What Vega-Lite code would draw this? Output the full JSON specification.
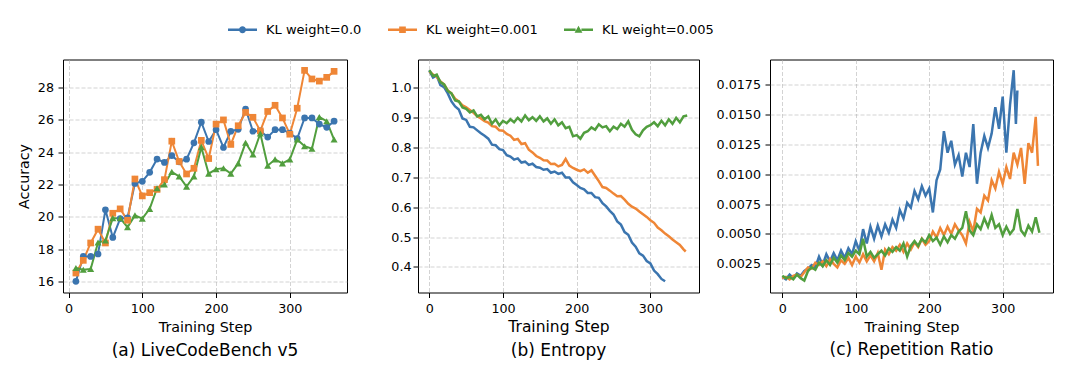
{
  "$schema": "https://vega.github.io/schema/vega-lite/v6.json",
  "padding": {"left": 16, "top": 14.5, "right": 0, "bottom": 0},
  "config": {
    "font": "DejaVu Sans",
    "view": {"stroke": "#000000", "strokeWidth": 1},
    "axis": {"domain": false, "tickColor": "#000000", "tickSize": 5, "tickWidth": 1, "labelFontSize": 12.7, "labelColor": "#000000", "labelPadding": 4.5, "titleFontWeight": "normal", "titleColor": "#000000", "gridColor": "#b0b0b0", "gridOpacity": 0.7, "gridDash": [4, 2], "gridWidth": 0.8},
    "legend": {"orient": "none", "direction": "horizontal", "legendX": 165, "legendY": -44.5, "symbolSize": 841, "labelOffset": 9, "columnPadding": 26, "labelFontSize": 13, "labelColor": "#000000", "symbolStrokeWidth": 0, "symbolOpacity": 1},
    "title": {"fontWeight": "normal", "fontSize": 17, "color": "#000000"}
  },
  "datasets": {
    "acc": [
      {"k": "KL weight=0.0", "x": 10, "y": 16.04}, {"k": "KL weight=0.0", "x": 20, "y": 17.57}, {"k": "KL weight=0.0", "x": 30, "y": 17.57}, {"k": "KL weight=0.0", "x": 40, "y": 17.72}, {"k": "KL weight=0.0", "x": 50, "y": 20.44}, {"k": "KL weight=0.0", "x": 60, "y": 18.74}, {"k": "KL weight=0.0", "x": 70, "y": 19.9}, {"k": "KL weight=0.0", "x": 80, "y": 19.95}, {"k": "KL weight=0.0", "x": 90, "y": 22.07}, {"k": "KL weight=0.0", "x": 100, "y": 22.2}, {"k": "KL weight=0.0", "x": 110, "y": 22.75}, {"k": "KL weight=0.0", "x": 120, "y": 23.57}, {"k": "KL weight=0.0", "x": 130, "y": 23.36}, {"k": "KL weight=0.0", "x": 140, "y": 23.78}, {"k": "KL weight=0.0", "x": 150, "y": 23.4}, {"k": "KL weight=0.0", "x": 160, "y": 23.56}, {"k": "KL weight=0.0", "x": 170, "y": 24.57}, {"k": "KL weight=0.0", "x": 180, "y": 25.84}, {"k": "KL weight=0.0", "x": 190, "y": 24.65}, {"k": "KL weight=0.0", "x": 200, "y": 25.38}, {"k": "KL weight=0.0", "x": 210, "y": 24.28}, {"k": "KL weight=0.0", "x": 220, "y": 25.28}, {"k": "KL weight=0.0", "x": 230, "y": 25.4}, {"k": "KL weight=0.0", "x": 240, "y": 26.65}, {"k": "KL weight=0.0", "x": 250, "y": 25.28}, {"k": "KL weight=0.0", "x": 260, "y": 25.3}, {"k": "KL weight=0.0", "x": 270, "y": 24.92}, {"k": "KL weight=0.0", "x": 280, "y": 25.38}, {"k": "KL weight=0.0", "x": 290, "y": 25.38}, {"k": "KL weight=0.0", "x": 300, "y": 25.17}, {"k": "KL weight=0.0", "x": 310, "y": 24.83}, {"k": "KL weight=0.0", "x": 320, "y": 26.1}, {"k": "KL weight=0.0", "x": 330, "y": 26.1}, {"k": "KL weight=0.0", "x": 340, "y": 25.72}, {"k": "KL weight=0.0", "x": 350, "y": 25.52}, {"k": "KL weight=0.0", "x": 360, "y": 25.9},
      {"k": "KL weight=0.001", "x": 10, "y": 16.55}, {"k": "KL weight=0.001", "x": 20, "y": 17.33}, {"k": "KL weight=0.001", "x": 30, "y": 18.4}, {"k": "KL weight=0.001", "x": 40, "y": 19.25}, {"k": "KL weight=0.001", "x": 50, "y": 18.4}, {"k": "KL weight=0.001", "x": 60, "y": 20.23}, {"k": "KL weight=0.001", "x": 70, "y": 20.5}, {"k": "KL weight=0.001", "x": 80, "y": 19.8}, {"k": "KL weight=0.001", "x": 90, "y": 22.34}, {"k": "KL weight=0.001", "x": 100, "y": 21.3}, {"k": "KL weight=0.001", "x": 110, "y": 21.5}, {"k": "KL weight=0.001", "x": 120, "y": 21.7}, {"k": "KL weight=0.001", "x": 130, "y": 22.3}, {"k": "KL weight=0.001", "x": 140, "y": 24.67}, {"k": "KL weight=0.001", "x": 150, "y": 23.42}, {"k": "KL weight=0.001", "x": 160, "y": 22.65}, {"k": "KL weight=0.001", "x": 170, "y": 23.0}, {"k": "KL weight=0.001", "x": 180, "y": 24.72}, {"k": "KL weight=0.001", "x": 190, "y": 23.6}, {"k": "KL weight=0.001", "x": 200, "y": 25.72}, {"k": "KL weight=0.001", "x": 210, "y": 25.98}, {"k": "KL weight=0.001", "x": 220, "y": 24.47}, {"k": "KL weight=0.001", "x": 230, "y": 25.62}, {"k": "KL weight=0.001", "x": 240, "y": 26.44}, {"k": "KL weight=0.001", "x": 250, "y": 26.14}, {"k": "KL weight=0.001", "x": 260, "y": 25.3}, {"k": "KL weight=0.001", "x": 270, "y": 26.5}, {"k": "KL weight=0.001", "x": 280, "y": 26.88}, {"k": "KL weight=0.001", "x": 290, "y": 26.1}, {"k": "KL weight=0.001", "x": 300, "y": 25.1}, {"k": "KL weight=0.001", "x": 310, "y": 26.7}, {"k": "KL weight=0.001", "x": 320, "y": 29.03}, {"k": "KL weight=0.001", "x": 330, "y": 28.5}, {"k": "KL weight=0.001", "x": 340, "y": 28.37}, {"k": "KL weight=0.001", "x": 350, "y": 28.6}, {"k": "KL weight=0.001", "x": 360, "y": 28.97},
      {"k": "KL weight=0.005", "x": 10, "y": 16.86}, {"k": "KL weight=0.005", "x": 20, "y": 16.75}, {"k": "KL weight=0.005", "x": 30, "y": 16.8}, {"k": "KL weight=0.005", "x": 40, "y": 18.43}, {"k": "KL weight=0.005", "x": 50, "y": 18.55}, {"k": "KL weight=0.005", "x": 60, "y": 19.93}, {"k": "KL weight=0.005", "x": 70, "y": 19.93}, {"k": "KL weight=0.005", "x": 80, "y": 19.37}, {"k": "KL weight=0.005", "x": 90, "y": 20.1}, {"k": "KL weight=0.005", "x": 100, "y": 19.9}, {"k": "KL weight=0.005", "x": 110, "y": 20.5}, {"k": "KL weight=0.005", "x": 120, "y": 21.77}, {"k": "KL weight=0.005", "x": 130, "y": 22.0}, {"k": "KL weight=0.005", "x": 140, "y": 22.78}, {"k": "KL weight=0.005", "x": 150, "y": 22.5}, {"k": "KL weight=0.005", "x": 160, "y": 21.87}, {"k": "KL weight=0.005", "x": 170, "y": 22.5}, {"k": "KL weight=0.005", "x": 180, "y": 24.3}, {"k": "KL weight=0.005", "x": 190, "y": 22.67}, {"k": "KL weight=0.005", "x": 200, "y": 22.95}, {"k": "KL weight=0.005", "x": 210, "y": 23.0}, {"k": "KL weight=0.005", "x": 220, "y": 22.67}, {"k": "KL weight=0.005", "x": 230, "y": 23.3}, {"k": "KL weight=0.005", "x": 240, "y": 24.57}, {"k": "KL weight=0.005", "x": 250, "y": 23.85}, {"k": "KL weight=0.005", "x": 260, "y": 25.14}, {"k": "KL weight=0.005", "x": 270, "y": 23.16}, {"k": "KL weight=0.005", "x": 280, "y": 23.55}, {"k": "KL weight=0.005", "x": 290, "y": 23.3}, {"k": "KL weight=0.005", "x": 300, "y": 23.55}, {"k": "KL weight=0.005", "x": 310, "y": 24.77}, {"k": "KL weight=0.005", "x": 320, "y": 24.36}, {"k": "KL weight=0.005", "x": 330, "y": 24.2}, {"k": "KL weight=0.005", "x": 340, "y": 26.16}, {"k": "KL weight=0.005", "x": 350, "y": 25.9}, {"k": "KL weight=0.005", "x": 360, "y": 24.77}
    ],
    "ent": [
      {"k": "KL weight=0.0", "x": 0, "y": 1.058}, {"k": "KL weight=0.0", "x": 5, "y": 1.035}, {"k": "KL weight=0.0", "x": 10, "y": 1.042}, {"k": "KL weight=0.0", "x": 15, "y": 1.01}, {"k": "KL weight=0.0", "x": 20, "y": 1.003}, {"k": "KL weight=0.0", "x": 25, "y": 0.982}, {"k": "KL weight=0.0", "x": 30, "y": 0.955}, {"k": "KL weight=0.0", "x": 35, "y": 0.938}, {"k": "KL weight=0.0", "x": 40, "y": 0.928}, {"k": "KL weight=0.0", "x": 45, "y": 0.898}, {"k": "KL weight=0.0", "x": 50, "y": 0.893}, {"k": "KL weight=0.0", "x": 55, "y": 0.87}, {"k": "KL weight=0.0", "x": 60, "y": 0.868}, {"k": "KL weight=0.0", "x": 65, "y": 0.858}, {"k": "KL weight=0.0", "x": 70, "y": 0.848}, {"k": "KL weight=0.0", "x": 75, "y": 0.84}, {"k": "KL weight=0.0", "x": 80, "y": 0.83}, {"k": "KL weight=0.0", "x": 85, "y": 0.81}, {"k": "KL weight=0.0", "x": 90, "y": 0.808}, {"k": "KL weight=0.0", "x": 95, "y": 0.795}, {"k": "KL weight=0.0", "x": 100, "y": 0.792}, {"k": "KL weight=0.0", "x": 105, "y": 0.775}, {"k": "KL weight=0.0", "x": 110, "y": 0.77}, {"k": "KL weight=0.0", "x": 115, "y": 0.76}, {"k": "KL weight=0.0", "x": 120, "y": 0.764}, {"k": "KL weight=0.0", "x": 125, "y": 0.75}, {"k": "KL weight=0.0", "x": 130, "y": 0.753}, {"k": "KL weight=0.0", "x": 135, "y": 0.742}, {"k": "KL weight=0.0", "x": 140, "y": 0.746}, {"k": "KL weight=0.0", "x": 145, "y": 0.735}, {"k": "KL weight=0.0", "x": 150, "y": 0.733}, {"k": "KL weight=0.0", "x": 155, "y": 0.726}, {"k": "KL weight=0.0", "x": 160, "y": 0.728}, {"k": "KL weight=0.0", "x": 165, "y": 0.716}, {"k": "KL weight=0.0", "x": 170, "y": 0.72}, {"k": "KL weight=0.0", "x": 175, "y": 0.712}, {"k": "KL weight=0.0", "x": 180, "y": 0.716}, {"k": "KL weight=0.0", "x": 185, "y": 0.7}, {"k": "KL weight=0.0", "x": 190, "y": 0.7}, {"k": "KL weight=0.0", "x": 195, "y": 0.684}, {"k": "KL weight=0.0", "x": 200, "y": 0.675}, {"k": "KL weight=0.0", "x": 205, "y": 0.665}, {"k": "KL weight=0.0", "x": 210, "y": 0.66}, {"k": "KL weight=0.0", "x": 215, "y": 0.648}, {"k": "KL weight=0.0", "x": 220, "y": 0.648}, {"k": "KL weight=0.0", "x": 225, "y": 0.634}, {"k": "KL weight=0.0", "x": 230, "y": 0.632}, {"k": "KL weight=0.0", "x": 235, "y": 0.614}, {"k": "KL weight=0.0", "x": 240, "y": 0.603}, {"k": "KL weight=0.0", "x": 245, "y": 0.588}, {"k": "KL weight=0.0", "x": 250, "y": 0.576}, {"k": "KL weight=0.0", "x": 255, "y": 0.553}, {"k": "KL weight=0.0", "x": 260, "y": 0.542}, {"k": "KL weight=0.0", "x": 265, "y": 0.517}, {"k": "KL weight=0.0", "x": 270, "y": 0.508}, {"k": "KL weight=0.0", "x": 275, "y": 0.482}, {"k": "KL weight=0.0", "x": 280, "y": 0.468}, {"k": "KL weight=0.0", "x": 285, "y": 0.446}, {"k": "KL weight=0.0", "x": 290, "y": 0.438}, {"k": "KL weight=0.0", "x": 295, "y": 0.42}, {"k": "KL weight=0.0", "x": 300, "y": 0.412}, {"k": "KL weight=0.0", "x": 305, "y": 0.388}, {"k": "KL weight=0.0", "x": 310, "y": 0.376}, {"k": "KL weight=0.0", "x": 315, "y": 0.36}, {"k": "KL weight=0.0", "x": 320, "y": 0.352},
      {"k": "KL weight=0.001", "x": 0, "y": 1.055}, {"k": "KL weight=0.001", "x": 5, "y": 1.045}, {"k": "KL weight=0.001", "x": 10, "y": 1.038}, {"k": "KL weight=0.001", "x": 15, "y": 1.022}, {"k": "KL weight=0.001", "x": 20, "y": 1.012}, {"k": "KL weight=0.001", "x": 25, "y": 0.992}, {"k": "KL weight=0.001", "x": 30, "y": 0.982}, {"k": "KL weight=0.001", "x": 35, "y": 0.964}, {"k": "KL weight=0.001", "x": 40, "y": 0.955}, {"k": "KL weight=0.001", "x": 45, "y": 0.942}, {"k": "KL weight=0.001", "x": 50, "y": 0.935}, {"k": "KL weight=0.001", "x": 55, "y": 0.926}, {"k": "KL weight=0.001", "x": 60, "y": 0.917}, {"k": "KL weight=0.001", "x": 65, "y": 0.905}, {"k": "KL weight=0.001", "x": 70, "y": 0.898}, {"k": "KL weight=0.001", "x": 75, "y": 0.889}, {"k": "KL weight=0.001", "x": 80, "y": 0.884}, {"k": "KL weight=0.001", "x": 85, "y": 0.872}, {"k": "KL weight=0.001", "x": 90, "y": 0.87}, {"k": "KL weight=0.001", "x": 95, "y": 0.858}, {"k": "KL weight=0.001", "x": 100, "y": 0.857}, {"k": "KL weight=0.001", "x": 105, "y": 0.846}, {"k": "KL weight=0.001", "x": 110, "y": 0.84}, {"k": "KL weight=0.001", "x": 115, "y": 0.826}, {"k": "KL weight=0.001", "x": 120, "y": 0.829}, {"k": "KL weight=0.001", "x": 125, "y": 0.812}, {"k": "KL weight=0.001", "x": 130, "y": 0.815}, {"k": "KL weight=0.001", "x": 135, "y": 0.793}, {"k": "KL weight=0.001", "x": 140, "y": 0.784}, {"k": "KL weight=0.001", "x": 145, "y": 0.772}, {"k": "KL weight=0.001", "x": 150, "y": 0.766}, {"k": "KL weight=0.001", "x": 155, "y": 0.758}, {"k": "KL weight=0.001", "x": 160, "y": 0.757}, {"k": "KL weight=0.001", "x": 165, "y": 0.745}, {"k": "KL weight=0.001", "x": 170, "y": 0.746}, {"k": "KL weight=0.001", "x": 175, "y": 0.737}, {"k": "KL weight=0.001", "x": 180, "y": 0.742}, {"k": "KL weight=0.001", "x": 185, "y": 0.762}, {"k": "KL weight=0.001", "x": 190, "y": 0.74}, {"k": "KL weight=0.001", "x": 195, "y": 0.732}, {"k": "KL weight=0.001", "x": 200, "y": 0.726}, {"k": "KL weight=0.001", "x": 205, "y": 0.721}, {"k": "KL weight=0.001", "x": 210, "y": 0.727}, {"k": "KL weight=0.001", "x": 215, "y": 0.716}, {"k": "KL weight=0.001", "x": 220, "y": 0.724}, {"k": "KL weight=0.001", "x": 225, "y": 0.706}, {"k": "KL weight=0.001", "x": 230, "y": 0.688}, {"k": "KL weight=0.001", "x": 235, "y": 0.668}, {"k": "KL weight=0.001", "x": 240, "y": 0.665}, {"k": "KL weight=0.001", "x": 245, "y": 0.656}, {"k": "KL weight=0.001", "x": 250, "y": 0.646}, {"k": "KL weight=0.001", "x": 255, "y": 0.637}, {"k": "KL weight=0.001", "x": 260, "y": 0.638}, {"k": "KL weight=0.001", "x": 265, "y": 0.626}, {"k": "KL weight=0.001", "x": 270, "y": 0.612}, {"k": "KL weight=0.001", "x": 275, "y": 0.602}, {"k": "KL weight=0.001", "x": 280, "y": 0.596}, {"k": "KL weight=0.001", "x": 285, "y": 0.586}, {"k": "KL weight=0.001", "x": 290, "y": 0.577}, {"k": "KL weight=0.001", "x": 295, "y": 0.568}, {"k": "KL weight=0.001", "x": 300, "y": 0.557}, {"k": "KL weight=0.001", "x": 305, "y": 0.548}, {"k": "KL weight=0.001", "x": 310, "y": 0.532}, {"k": "KL weight=0.001", "x": 315, "y": 0.523}, {"k": "KL weight=0.001", "x": 320, "y": 0.512}, {"k": "KL weight=0.001", "x": 325, "y": 0.503}, {"k": "KL weight=0.001", "x": 330, "y": 0.492}, {"k": "KL weight=0.001", "x": 335, "y": 0.483}, {"k": "KL weight=0.001", "x": 340, "y": 0.474}, {"k": "KL weight=0.001", "x": 345, "y": 0.459}, {"k": "KL weight=0.001", "x": 348, "y": 0.452},
      {"k": "KL weight=0.005", "x": 0, "y": 1.06}, {"k": "KL weight=0.005", "x": 5, "y": 1.04}, {"k": "KL weight=0.005", "x": 10, "y": 1.045}, {"k": "KL weight=0.005", "x": 15, "y": 1.02}, {"k": "KL weight=0.005", "x": 20, "y": 1.012}, {"k": "KL weight=0.005", "x": 25, "y": 0.99}, {"k": "KL weight=0.005", "x": 30, "y": 0.982}, {"k": "KL weight=0.005", "x": 35, "y": 0.958}, {"k": "KL weight=0.005", "x": 40, "y": 0.955}, {"k": "KL weight=0.005", "x": 45, "y": 0.935}, {"k": "KL weight=0.005", "x": 50, "y": 0.93}, {"k": "KL weight=0.005", "x": 55, "y": 0.918}, {"k": "KL weight=0.005", "x": 60, "y": 0.925}, {"k": "KL weight=0.005", "x": 65, "y": 0.905}, {"k": "KL weight=0.005", "x": 70, "y": 0.91}, {"k": "KL weight=0.005", "x": 75, "y": 0.895}, {"k": "KL weight=0.005", "x": 80, "y": 0.905}, {"k": "KL weight=0.005", "x": 85, "y": 0.88}, {"k": "KL weight=0.005", "x": 90, "y": 0.895}, {"k": "KL weight=0.005", "x": 95, "y": 0.875}, {"k": "KL weight=0.005", "x": 100, "y": 0.89}, {"k": "KL weight=0.005", "x": 105, "y": 0.882}, {"k": "KL weight=0.005", "x": 110, "y": 0.895}, {"k": "KL weight=0.005", "x": 115, "y": 0.885}, {"k": "KL weight=0.005", "x": 120, "y": 0.9}, {"k": "KL weight=0.005", "x": 125, "y": 0.888}, {"k": "KL weight=0.005", "x": 130, "y": 0.908}, {"k": "KL weight=0.005", "x": 135, "y": 0.892}, {"k": "KL weight=0.005", "x": 140, "y": 0.902}, {"k": "KL weight=0.005", "x": 145, "y": 0.89}, {"k": "KL weight=0.005", "x": 150, "y": 0.905}, {"k": "KL weight=0.005", "x": 155, "y": 0.888}, {"k": "KL weight=0.005", "x": 160, "y": 0.898}, {"k": "KL weight=0.005", "x": 165, "y": 0.88}, {"k": "KL weight=0.005", "x": 170, "y": 0.895}, {"k": "KL weight=0.005", "x": 175, "y": 0.875}, {"k": "KL weight=0.005", "x": 180, "y": 0.885}, {"k": "KL weight=0.005", "x": 185, "y": 0.865}, {"k": "KL weight=0.005", "x": 190, "y": 0.87}, {"k": "KL weight=0.005", "x": 195, "y": 0.838}, {"k": "KL weight=0.005", "x": 200, "y": 0.842}, {"k": "KL weight=0.005", "x": 205, "y": 0.83}, {"k": "KL weight=0.005", "x": 210, "y": 0.85}, {"k": "KL weight=0.005", "x": 215, "y": 0.855}, {"k": "KL weight=0.005", "x": 220, "y": 0.868}, {"k": "KL weight=0.005", "x": 225, "y": 0.86}, {"k": "KL weight=0.005", "x": 230, "y": 0.878}, {"k": "KL weight=0.005", "x": 235, "y": 0.868}, {"k": "KL weight=0.005", "x": 240, "y": 0.872}, {"k": "KL weight=0.005", "x": 245, "y": 0.855}, {"k": "KL weight=0.005", "x": 250, "y": 0.87}, {"k": "KL weight=0.005", "x": 255, "y": 0.862}, {"k": "KL weight=0.005", "x": 260, "y": 0.88}, {"k": "KL weight=0.005", "x": 265, "y": 0.87}, {"k": "KL weight=0.005", "x": 270, "y": 0.888}, {"k": "KL weight=0.005", "x": 275, "y": 0.86}, {"k": "KL weight=0.005", "x": 280, "y": 0.845}, {"k": "KL weight=0.005", "x": 285, "y": 0.838}, {"k": "KL weight=0.005", "x": 290, "y": 0.858}, {"k": "KL weight=0.005", "x": 295, "y": 0.87}, {"k": "KL weight=0.005", "x": 300, "y": 0.875}, {"k": "KL weight=0.005", "x": 305, "y": 0.885}, {"k": "KL weight=0.005", "x": 310, "y": 0.872}, {"k": "KL weight=0.005", "x": 315, "y": 0.89}, {"k": "KL weight=0.005", "x": 320, "y": 0.875}, {"k": "KL weight=0.005", "x": 325, "y": 0.895}, {"k": "KL weight=0.005", "x": 330, "y": 0.88}, {"k": "KL weight=0.005", "x": 335, "y": 0.9}, {"k": "KL weight=0.005", "x": 340, "y": 0.885}, {"k": "KL weight=0.005", "x": 345, "y": 0.905}, {"k": "KL weight=0.005", "x": 350, "y": 0.908}
    ],
    "rep": [
      {"k": "KL weight=0.0", "x": 0, "y": 0.0014}, {"k": "KL weight=0.0", "x": 5, "y": 0.0012}, {"k": "KL weight=0.0", "x": 10, "y": 0.0016}, {"k": "KL weight=0.0", "x": 15, "y": 0.0013}, {"k": "KL weight=0.0", "x": 20, "y": 0.0017}, {"k": "KL weight=0.0", "x": 25, "y": 0.0015}, {"k": "KL weight=0.0", "x": 30, "y": 0.0019}, {"k": "KL weight=0.0", "x": 35, "y": 0.0021}, {"k": "KL weight=0.0", "x": 40, "y": 0.0024}, {"k": "KL weight=0.0", "x": 45, "y": 0.0022}, {"k": "KL weight=0.0", "x": 50, "y": 0.0031}, {"k": "KL weight=0.0", "x": 55, "y": 0.0024}, {"k": "KL weight=0.0", "x": 60, "y": 0.0033}, {"k": "KL weight=0.0", "x": 65, "y": 0.0027}, {"k": "KL weight=0.0", "x": 70, "y": 0.0034}, {"k": "KL weight=0.0", "x": 75, "y": 0.0028}, {"k": "KL weight=0.0", "x": 80, "y": 0.0036}, {"k": "KL weight=0.0", "x": 85, "y": 0.003}, {"k": "KL weight=0.0", "x": 90, "y": 0.0038}, {"k": "KL weight=0.0", "x": 95, "y": 0.0033}, {"k": "KL weight=0.0", "x": 100, "y": 0.0044}, {"k": "KL weight=0.0", "x": 105, "y": 0.0036}, {"k": "KL weight=0.0", "x": 110, "y": 0.0054}, {"k": "KL weight=0.0", "x": 115, "y": 0.0042}, {"k": "KL weight=0.0", "x": 120, "y": 0.0056}, {"k": "KL weight=0.0", "x": 125, "y": 0.0046}, {"k": "KL weight=0.0", "x": 130, "y": 0.0057}, {"k": "KL weight=0.0", "x": 135, "y": 0.0048}, {"k": "KL weight=0.0", "x": 140, "y": 0.0058}, {"k": "KL weight=0.0", "x": 145, "y": 0.0051}, {"k": "KL weight=0.0", "x": 150, "y": 0.0062}, {"k": "KL weight=0.0", "x": 155, "y": 0.0055}, {"k": "KL weight=0.0", "x": 160, "y": 0.007}, {"k": "KL weight=0.0", "x": 165, "y": 0.0063}, {"k": "KL weight=0.0", "x": 170, "y": 0.0076}, {"k": "KL weight=0.0", "x": 175, "y": 0.0072}, {"k": "KL weight=0.0", "x": 180, "y": 0.0086}, {"k": "KL weight=0.0", "x": 185, "y": 0.0079}, {"k": "KL weight=0.0", "x": 190, "y": 0.009}, {"k": "KL weight=0.0", "x": 195, "y": 0.0082}, {"k": "KL weight=0.0", "x": 200, "y": 0.0088}, {"k": "KL weight=0.0", "x": 205, "y": 0.0068}, {"k": "KL weight=0.0", "x": 210, "y": 0.0095}, {"k": "KL weight=0.0", "x": 215, "y": 0.0104}, {"k": "KL weight=0.0", "x": 220, "y": 0.0136}, {"k": "KL weight=0.0", "x": 225, "y": 0.0118}, {"k": "KL weight=0.0", "x": 230, "y": 0.0128}, {"k": "KL weight=0.0", "x": 235, "y": 0.0108}, {"k": "KL weight=0.0", "x": 240, "y": 0.0116}, {"k": "KL weight=0.0", "x": 245, "y": 0.0098}, {"k": "KL weight=0.0", "x": 250, "y": 0.0118}, {"k": "KL weight=0.0", "x": 255, "y": 0.0106}, {"k": "KL weight=0.0", "x": 260, "y": 0.0142}, {"k": "KL weight=0.0", "x": 265, "y": 0.0092}, {"k": "KL weight=0.0", "x": 270, "y": 0.0118}, {"k": "KL weight=0.0", "x": 275, "y": 0.0132}, {"k": "KL weight=0.0", "x": 280, "y": 0.0122}, {"k": "KL weight=0.0", "x": 285, "y": 0.0134}, {"k": "KL weight=0.0", "x": 290, "y": 0.0156}, {"k": "KL weight=0.0", "x": 295, "y": 0.0138}, {"k": "KL weight=0.0", "x": 300, "y": 0.0165}, {"k": "KL weight=0.0", "x": 305, "y": 0.0118}, {"k": "KL weight=0.0", "x": 310, "y": 0.0158}, {"k": "KL weight=0.0", "x": 315, "y": 0.0187}, {"k": "KL weight=0.0", "x": 318, "y": 0.0142}, {"k": "KL weight=0.0", "x": 320, "y": 0.017},
      {"k": "KL weight=0.001", "x": 0, "y": 0.0013}, {"k": "KL weight=0.001", "x": 5, "y": 0.0014}, {"k": "KL weight=0.001", "x": 10, "y": 0.0012}, {"k": "KL weight=0.001", "x": 15, "y": 0.0015}, {"k": "KL weight=0.001", "x": 20, "y": 0.0016}, {"k": "KL weight=0.001", "x": 25, "y": 0.0014}, {"k": "KL weight=0.001", "x": 30, "y": 0.0018}, {"k": "KL weight=0.001", "x": 35, "y": 0.0022}, {"k": "KL weight=0.001", "x": 40, "y": 0.0021}, {"k": "KL weight=0.001", "x": 45, "y": 0.0026}, {"k": "KL weight=0.001", "x": 50, "y": 0.0024}, {"k": "KL weight=0.001", "x": 55, "y": 0.0027}, {"k": "KL weight=0.001", "x": 60, "y": 0.0023}, {"k": "KL weight=0.001", "x": 65, "y": 0.0029}, {"k": "KL weight=0.001", "x": 70, "y": 0.0025}, {"k": "KL weight=0.001", "x": 75, "y": 0.0022}, {"k": "KL weight=0.001", "x": 80, "y": 0.0028}, {"k": "KL weight=0.001", "x": 85, "y": 0.0025}, {"k": "KL weight=0.001", "x": 90, "y": 0.003}, {"k": "KL weight=0.001", "x": 95, "y": 0.0024}, {"k": "KL weight=0.001", "x": 100, "y": 0.0031}, {"k": "KL weight=0.001", "x": 105, "y": 0.0026}, {"k": "KL weight=0.001", "x": 110, "y": 0.0033}, {"k": "KL weight=0.001", "x": 115, "y": 0.0027}, {"k": "KL weight=0.001", "x": 120, "y": 0.0032}, {"k": "KL weight=0.001", "x": 125, "y": 0.0027}, {"k": "KL weight=0.001", "x": 130, "y": 0.0034}, {"k": "KL weight=0.001", "x": 135, "y": 0.002}, {"k": "KL weight=0.001", "x": 140, "y": 0.0037}, {"k": "KL weight=0.001", "x": 145, "y": 0.0033}, {"k": "KL weight=0.001", "x": 150, "y": 0.0039}, {"k": "KL weight=0.001", "x": 155, "y": 0.0036}, {"k": "KL weight=0.001", "x": 160, "y": 0.0041}, {"k": "KL weight=0.001", "x": 165, "y": 0.0035}, {"k": "KL weight=0.001", "x": 170, "y": 0.0042}, {"k": "KL weight=0.001", "x": 175, "y": 0.0037}, {"k": "KL weight=0.001", "x": 180, "y": 0.0043}, {"k": "KL weight=0.001", "x": 185, "y": 0.0039}, {"k": "KL weight=0.001", "x": 190, "y": 0.0046}, {"k": "KL weight=0.001", "x": 195, "y": 0.0041}, {"k": "KL weight=0.001", "x": 200, "y": 0.0044}, {"k": "KL weight=0.001", "x": 205, "y": 0.0052}, {"k": "KL weight=0.001", "x": 210, "y": 0.0047}, {"k": "KL weight=0.001", "x": 215, "y": 0.0055}, {"k": "KL weight=0.001", "x": 220, "y": 0.0049}, {"k": "KL weight=0.001", "x": 225, "y": 0.0056}, {"k": "KL weight=0.001", "x": 230, "y": 0.005}, {"k": "KL weight=0.001", "x": 235, "y": 0.0058}, {"k": "KL weight=0.001", "x": 240, "y": 0.0053}, {"k": "KL weight=0.001", "x": 245, "y": 0.0049}, {"k": "KL weight=0.001", "x": 250, "y": 0.0042}, {"k": "KL weight=0.001", "x": 255, "y": 0.006}, {"k": "KL weight=0.001", "x": 260, "y": 0.0052}, {"k": "KL weight=0.001", "x": 265, "y": 0.0071}, {"k": "KL weight=0.001", "x": 270, "y": 0.0068}, {"k": "KL weight=0.001", "x": 275, "y": 0.0082}, {"k": "KL weight=0.001", "x": 280, "y": 0.0078}, {"k": "KL weight=0.001", "x": 285, "y": 0.0095}, {"k": "KL weight=0.001", "x": 290, "y": 0.0088}, {"k": "KL weight=0.001", "x": 295, "y": 0.0102}, {"k": "KL weight=0.001", "x": 300, "y": 0.0092}, {"k": "KL weight=0.001", "x": 305, "y": 0.0106}, {"k": "KL weight=0.001", "x": 310, "y": 0.0096}, {"k": "KL weight=0.001", "x": 315, "y": 0.0118}, {"k": "KL weight=0.001", "x": 320, "y": 0.0108}, {"k": "KL weight=0.001", "x": 325, "y": 0.0122}, {"k": "KL weight=0.001", "x": 330, "y": 0.0092}, {"k": "KL weight=0.001", "x": 335, "y": 0.0126}, {"k": "KL weight=0.001", "x": 340, "y": 0.0118}, {"k": "KL weight=0.001", "x": 345, "y": 0.0148}, {"k": "KL weight=0.001", "x": 348, "y": 0.0107},
      {"k": "KL weight=0.005", "x": 0, "y": 0.0015}, {"k": "KL weight=0.005", "x": 5, "y": 0.0013}, {"k": "KL weight=0.005", "x": 10, "y": 0.0014}, {"k": "KL weight=0.005", "x": 15, "y": 0.0012}, {"k": "KL weight=0.005", "x": 20, "y": 0.0016}, {"k": "KL weight=0.005", "x": 25, "y": 0.0013}, {"k": "KL weight=0.005", "x": 30, "y": 0.0011}, {"k": "KL weight=0.005", "x": 35, "y": 0.0019}, {"k": "KL weight=0.005", "x": 40, "y": 0.0022}, {"k": "KL weight=0.005", "x": 45, "y": 0.002}, {"k": "KL weight=0.005", "x": 50, "y": 0.0026}, {"k": "KL weight=0.005", "x": 55, "y": 0.0023}, {"k": "KL weight=0.005", "x": 60, "y": 0.0028}, {"k": "KL weight=0.005", "x": 65, "y": 0.0024}, {"k": "KL weight=0.005", "x": 70, "y": 0.003}, {"k": "KL weight=0.005", "x": 75, "y": 0.0026}, {"k": "KL weight=0.005", "x": 80, "y": 0.0032}, {"k": "KL weight=0.005", "x": 85, "y": 0.0028}, {"k": "KL weight=0.005", "x": 90, "y": 0.0034}, {"k": "KL weight=0.005", "x": 95, "y": 0.0031}, {"k": "KL weight=0.005", "x": 100, "y": 0.0036}, {"k": "KL weight=0.005", "x": 105, "y": 0.0033}, {"k": "KL weight=0.005", "x": 110, "y": 0.0046}, {"k": "KL weight=0.005", "x": 115, "y": 0.0031}, {"k": "KL weight=0.005", "x": 120, "y": 0.0035}, {"k": "KL weight=0.005", "x": 125, "y": 0.003}, {"k": "KL weight=0.005", "x": 130, "y": 0.0033}, {"k": "KL weight=0.005", "x": 135, "y": 0.0036}, {"k": "KL weight=0.005", "x": 140, "y": 0.0032}, {"k": "KL weight=0.005", "x": 145, "y": 0.0038}, {"k": "KL weight=0.005", "x": 150, "y": 0.0035}, {"k": "KL weight=0.005", "x": 155, "y": 0.0039}, {"k": "KL weight=0.005", "x": 160, "y": 0.0036}, {"k": "KL weight=0.005", "x": 165, "y": 0.0042}, {"k": "KL weight=0.005", "x": 170, "y": 0.0031}, {"k": "KL weight=0.005", "x": 175, "y": 0.004}, {"k": "KL weight=0.005", "x": 180, "y": 0.0044}, {"k": "KL weight=0.005", "x": 185, "y": 0.004}, {"k": "KL weight=0.005", "x": 190, "y": 0.0046}, {"k": "KL weight=0.005", "x": 195, "y": 0.0043}, {"k": "KL weight=0.005", "x": 200, "y": 0.0049}, {"k": "KL weight=0.005", "x": 205, "y": 0.0044}, {"k": "KL weight=0.005", "x": 210, "y": 0.0047}, {"k": "KL weight=0.005", "x": 215, "y": 0.0041}, {"k": "KL weight=0.005", "x": 220, "y": 0.0048}, {"k": "KL weight=0.005", "x": 225, "y": 0.0043}, {"k": "KL weight=0.005", "x": 230, "y": 0.0049}, {"k": "KL weight=0.005", "x": 235, "y": 0.0046}, {"k": "KL weight=0.005", "x": 240, "y": 0.0052}, {"k": "KL weight=0.005", "x": 245, "y": 0.0055}, {"k": "KL weight=0.005", "x": 250, "y": 0.0069}, {"k": "KL weight=0.005", "x": 255, "y": 0.0053}, {"k": "KL weight=0.005", "x": 260, "y": 0.0049}, {"k": "KL weight=0.005", "x": 265, "y": 0.0058}, {"k": "KL weight=0.005", "x": 270, "y": 0.0054}, {"k": "KL weight=0.005", "x": 275, "y": 0.0063}, {"k": "KL weight=0.005", "x": 280, "y": 0.0056}, {"k": "KL weight=0.005", "x": 285, "y": 0.0066}, {"k": "KL weight=0.005", "x": 290, "y": 0.0055}, {"k": "KL weight=0.005", "x": 295, "y": 0.0058}, {"k": "KL weight=0.005", "x": 300, "y": 0.0049}, {"k": "KL weight=0.005", "x": 305, "y": 0.0056}, {"k": "KL weight=0.005", "x": 310, "y": 0.005}, {"k": "KL weight=0.005", "x": 315, "y": 0.0054}, {"k": "KL weight=0.005", "x": 320, "y": 0.0071}, {"k": "KL weight=0.005", "x": 325, "y": 0.0053}, {"k": "KL weight=0.005", "x": 330, "y": 0.0049}, {"k": "KL weight=0.005", "x": 335, "y": 0.0057}, {"k": "KL weight=0.005", "x": 340, "y": 0.0052}, {"k": "KL weight=0.005", "x": 345, "y": 0.0064}, {"k": "KL weight=0.005", "x": 350, "y": 0.0051}
    ]
  },
  "bounds": "flush",
  "spacing": 71,
  "resolve": {"scale": {"color": "shared"}, "legend": {"color": "shared"}},
  "hconcat": [
    {
      "width": 284, "height": 233,
      "data": {"name": "acc"},
      "title": {"text": "(a) LiveCodeBench v5", "orient": "bottom", "offset": 8, "anchor": "middle"},
      "encoding": {
        "x": {"field": "x", "type": "quantitative", "scale": {"domain": [-7.5, 377.5], "nice": false, "zero": false}, "axis": {"values": [0, 100, 200, 300], "title": "Training Step", "titleFontSize": 14.3, "titlePadding": 6}},
        "y": {"field": "y", "type": "quantitative", "scale": {"domain": [15.35, 29.7], "nice": false, "zero": false}, "axis": {"values": [16, 18, 20, 22, 24, 26, 28], "title": "Accuracy", "titleFontSize": 14.2, "titlePadding": 6}},
        "color": {"field": "k", "type": "nominal", "scale": {"domain": ["KL weight=0.0", "KL weight=0.001", "KL weight=0.005"], "range": ["#3b75af", "#ef8636", "#519e3e"]},
          "legend": {"title": null, "encoding": {"symbols": {"shape": {"condition": [{"test": "datum.value === 'KL weight=0.0'", "value": "M-1,-0.086H-0.2V0.086H-1Z M0.2,-0.086H1V0.086H0.2Z M-0.24,0A0.24,0.24 0 1,1 0.24,0A0.24,0.24 0 1,1 -0.24,0Z"}, {"test": "datum.value === 'KL weight=0.001'", "value": "M-1,-0.086H-0.2V0.086H-1Z M0.2,-0.086H1V0.086H0.2Z M-0.23,-0.23H0.23V0.23H-0.23Z"}], "value": "M-1,-0.086H-0.2V0.086H-1Z M0.2,-0.086H1V0.086H0.2Z M0,-0.28L0.27,0.2H-0.27Z"}}}}}
      },
      "layer": [
        {"mark": {"type": "line", "strokeWidth": 2}},
        {"transform": [{"filter": "datum.k === 'KL weight=0.0'"}], "mark": {"type": "point", "filled": true, "opacity": 1, "size": 45, "shape": "circle"}},
        {"transform": [{"filter": "datum.k === 'KL weight=0.001'"}], "mark": {"type": "point", "filled": true, "opacity": 1, "size": 45, "shape": "square"}},
        {"transform": [{"filter": "datum.k === 'KL weight=0.005'"}], "mark": {"type": "point", "filled": true, "opacity": 1, "size": 50, "shape": "triangle-up"}}
      ]
    },
    {
      "width": 281, "height": 233,
      "data": {"name": "ent"},
      "title": {"text": "(b) Entropy", "orient": "bottom", "offset": 8, "anchor": "middle"},
      "mark": {"type": "line", "strokeWidth": 2.5},
      "encoding": {
        "x": {"field": "x", "type": "quantitative", "scale": {"domain": [-15.4, 366], "nice": false, "zero": false}, "axis": {"values": [0, 100, 200, 300], "title": "Training Step", "titleFontSize": 15.5, "titlePadding": 5}},
        "y": {"field": "y", "type": "quantitative", "scale": {"domain": [0.3145, 1.0955], "nice": false, "zero": false}, "axis": {"values": [0.4, 0.5, 0.6, 0.7, 0.8, 0.9, 1.0], "format": ".1f", "title": null, "labelPadding": 2}},
        "color": {"field": "k", "type": "nominal", "legend": {"title": null}}
      }
    },
    {
      "width": 283, "height": 233,
      "data": {"name": "rep"},
      "title": {"text": "(c) Repetition Ratio", "orient": "bottom", "offset": 8, "anchor": "middle"},
      "mark": {"type": "line", "strokeWidth": 2.5},
      "encoding": {
        "x": {"field": "x", "type": "quantitative", "scale": {"domain": [-16.7, 368.5], "nice": false, "zero": false}, "axis": {"values": [0, 100, 200, 300], "title": "Training Step", "titleFontSize": 14.5, "titlePadding": 6}},
        "y": {"field": "y", "type": "quantitative", "scale": {"domain": [0.0001, 0.0196], "nice": false, "zero": false}, "axis": {"values": [0.0025, 0.005, 0.0075, 0.01, 0.0125, 0.015, 0.0175], "format": ".4f", "title": null}},
        "color": {"field": "k", "type": "nominal", "legend": {"title": null}}
      }
    }
  ]
}
